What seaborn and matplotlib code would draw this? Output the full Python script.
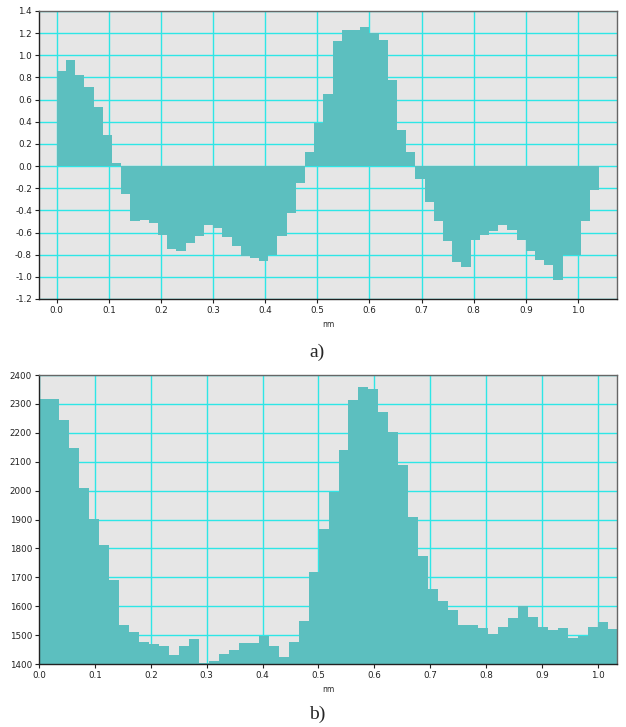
import numpy as np
import pandas as pd
import matplotlib
matplotlib.use('Agg')
import matplotlib.pyplot as plt
import seaborn as sns

# a) 上图：每个区间的值（从 0 nm 开始，等宽区间）
step_a = 0.01765
values_a = [0.86, 0.96, 0.82, 0.71, 0.53, 0.28, 0.03,
            -0.25, -0.50, -0.49, -0.51, -0.62, -0.75, -0.77, -0.69, -0.63, -0.53,
            -0.56, -0.64, -0.72, -0.81, -0.83, -0.86, -0.80, -0.63, -0.42, -0.15,
            0.13, 0.39, 0.65, 1.13, 1.23, 1.23, 1.26, 1.20, 1.14, 0.78, 0.33, 0.13,
            -0.12, -0.32, -0.50, -0.68, -0.87, -0.91, -0.67, -0.62, -0.59, -0.53,
            -0.58, -0.67, -0.77, -0.85, -0.89, -1.03, -0.80, -0.80, -0.50, -0.22]
yticks_a = [-1.2, -1.0, -0.8, -0.6, -0.4, -0.2, 0.0, 0.2, 0.4, 0.6, 0.8, 1.0, 1.2, 1.4]

# b) 下图
step_b = 0.01786
values_b = [2316, 2316, 2244, 2148, 2008, 1901, 1812, 1689, 1536, 1511,
            1476, 1470, 1463, 1430, 1461, 1486, 1403, 1409, 1436, 1450,
            1473, 1473, 1498, 1463, 1424, 1476, 1550, 1719, 1868, 1994,
            2141, 2314, 2357, 2350, 2271, 2204, 2089, 1910, 1772, 1660,
            1617, 1588, 1536, 1536, 1524, 1504, 1527, 1559, 1602, 1562,
            1528, 1516, 1523, 1489, 1496, 1528, 1547, 1521]
yticks_b = [1400, 1500, 1600, 1700, 1800, 1900, 2000, 2100, 2200, 2300, 2400]

xticks = [0.0, 0.1, 0.2, 0.3, 0.4, 0.5, 0.6, 0.7, 0.8, 0.9, 1.0]

BAR = '#5cbfbf'
BG = '#e6e6e6'
GRID = '#2ee6e6'

sns.set_style('ticks')
plt.rcParams['font.family'] = ['DejaVu Sans']

fig = plt.figure(figsize=(6.26, 7.27), dpi=100)
ax_a = fig.add_axes([39 / 626, 1 - 299 / 727, 578 / 626, 288 / 727])
ax_b = fig.add_axes([39 / 626, 1 - 664 / 727, 578 / 626, 289 / 727])


def draw(ax, values, step, xlim, ylim, yticks, yfmt):
    n = len(values)
    centers = (np.arange(n) + 0.5) * step
    df = pd.DataFrame({'x': centers, 'v': values})
    sns.histplot(data=df, x='x', weights='v', binwidth=step,
                 binrange=(0, n * step), element='step',
                 fill=True, color=BAR, alpha=1, linewidth=0, ax=ax, zorder=2)
    ax.set_facecolor(BG)
    ax.set_xlim(*xlim)
    ax.set_ylim(*ylim)
    ax.set_xticks(xticks)
    ax.set_xticklabels([f'{t:.1f}' for t in xticks])
    ax.set_yticks(yticks)
    ax.set_yticklabels([yfmt.format(t) for t in yticks])
    ax.grid(True, color=GRID, linewidth=1.0)
    ax.set_axisbelow(True)
    ax.tick_params(labelsize=6.3, length=3, width=0.8, pad=2, colors='#222')
    ax.set_xlabel('nm', fontsize=5.5, labelpad=4)
    ax.set_ylabel('')
    for s in ['left', 'bottom']:
        ax.spines[s].set_color('#222')
        ax.spines[s].set_linewidth(1.0)
    for s in ['top', 'right']:
        ax.spines[s].set_visible(True)
        ax.spines[s].set_color('#666')
        ax.spines[s].set_linewidth(1.0)


draw(ax_a, values_a, step_a, (-0.034, 1.075), (-1.2, 1.4), yticks_a, '{:.1f}')
draw(ax_b, values_b, step_b, (0.0, 1.034), (1400, 2400), yticks_b, '{:.0f}')

fig.text(317 / 626, 1 - 352 / 727, 'a)', fontsize=14, family='Liberation Serif',
         ha='center', va='center')
fig.text(317 / 626, 1 - 714 / 727, 'b)', fontsize=14, family='Liberation Serif',
         ha='center', va='center')

fig.savefig('out.png', dpi=100)
